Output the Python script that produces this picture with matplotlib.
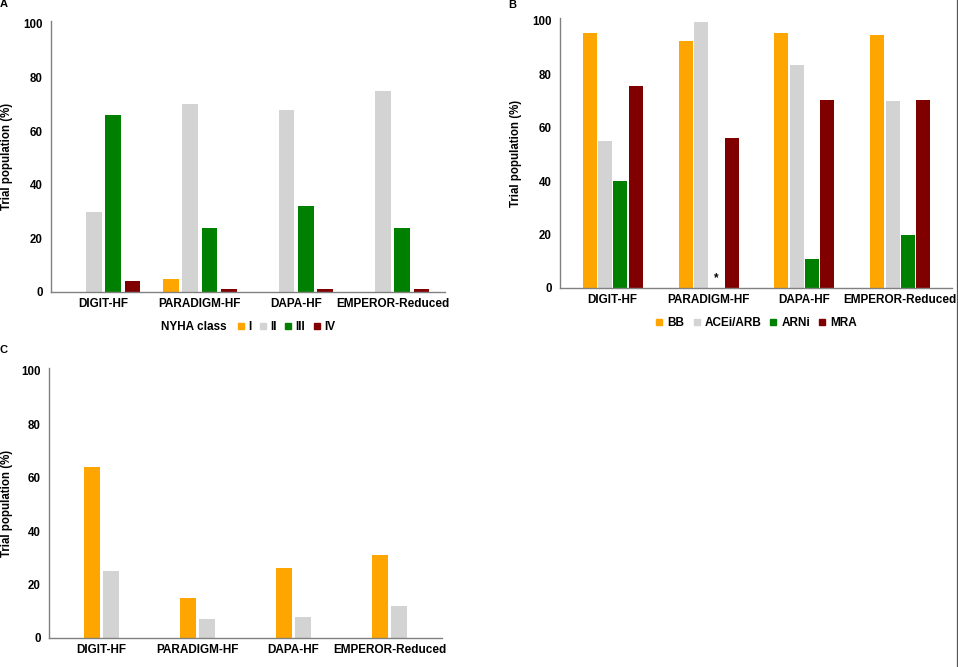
import numpy as np
import matplotlib
matplotlib.use("Agg")
import matplotlib.pyplot as plt
from matplotlib.lines import Line2D

plt.rcParams["font.family"] = ["Liberation Sans", "DejaVu Sans"]
plt.rcParams["font.weight"] = "bold"

trials = ["DIGIT-HF", "PARADIGM-HF", "DAPA-HF", "EMPEROR-Reduced"]

# panel A: NYHA class distribution (%)
nyha_labels = ["I", "II", "III", "IV"]
nyha_i = [0, 5, 0, 0]
nyha_ii = [30, 70, 68, 75]
nyha_iii = [66, 24, 32, 24]
nyha_iv = [4, 1, 1, 1]

# panel B: background therapy (%)
ther_labels = ["BB", "ACEi/ARB", "ARNi", "MRA"]
ther_bb = [95.5, 92.5, 95.5, 94.5]
ther_acei = [55, 99.5, 83.5, 70]
ther_arni = [40, 0, 11, 20]
ther_mra = [75.5, 56, 70.5, 70.5]

# panel C: two series, no legend in the original
c_orange = [64, 15, 26, 31]
c_gray = [25, 7, 8, 12]

ORANGE = "#FFA500"
GRAY = "#D3D3D3"
GREEN = "#008000"
DARKRED = "#800000"
colors4 = [ORANGE, GRAY, GREEN, DARKRED]

fig = plt.figure(figsize=(9.58, 6.67), dpi=100)
W, H = 958.0, 667.0


def axes_px(left, top, right, bottom):
    return fig.add_axes([left / W, 1 - bottom / H, (right - left) / W, (bottom - top) / H])


def style(ax, label_x, xlim):
    ax.set_xlim(*xlim)
    ax.set_ylim(0, 101)
    ax.set_yticks([0, 20, 40, 60, 80, 100])
    ax.set_xticks(range(len(trials)))
    ax.set_xticklabels(trials, fontsize=8.5, fontweight="bold")
    ax.tick_params(axis="y", labelsize=8.3, length=0, pad=6)
    ax.tick_params(axis="x", length=0, pad=4)
    for s in ["top", "right"]:
        ax.spines[s].set_visible(False)
    for s in ["left", "bottom"]:
        ax.spines[s].set_color("#808080")
        ax.spines[s].set_linewidth(1.0)
    ax.set_ylabel("Trial population (%)", fontsize=8.3, fontweight="bold")
    ax.yaxis.set_label_coords(label_x, 0.5)


def square(c):
    return Line2D([], [], marker="s", linestyle="none", markersize=5,
                  markerfacecolor=c, markeredgecolor=c)


x = np.arange(len(trials))

# ---- panel A
axA = axes_px(51, 21, 445, 292)
step, bw = 0.2, 0.163
for k, vals in enumerate([nyha_i, nyha_ii, nyha_iii, nyha_iv]):
    axA.bar(x + (k - 1.5) * step, vals, bw, color=colors4[k])
style(axA, -0.097, (-0.545, 3.545))
fig.text(161 / W, 1 - 327 / H, "NYHA class", fontsize=8.5, fontweight="bold",
         ha="left", va="center")
axA.legend([square(c) for c in colors4], nyha_labels, ncol=4, frameon=False,
           loc="center left", bbox_to_anchor=((236 - 51) / 394, (292 - 327) / 271),
           fontsize=8.5, handlelength=0.8, handletextpad=0.2, columnspacing=0.6,
           borderpad=0, borderaxespad=0)

# ---- panel B
axB = axes_px(560, 18, 952, 288)
step, bw = 0.16, 0.146
for k, vals in enumerate([ther_bb, ther_acei, ther_arni, ther_mra]):
    axB.bar(x + (k - 1.5) * step, vals, bw, color=colors4[k])
axB.text(x[1] + 0.5 * step, 1.5, "*", ha="center", va="bottom", fontsize=8.5)
style(axB, -0.097, (-0.55, 3.54))
axB.legend([square(c) for c in colors4], ther_labels, ncol=4, frameon=False,
           loc="center", bbox_to_anchor=(0.5, (288 - 323) / 270),
           fontsize=8.5, handlelength=0.8, handletextpad=0.3, columnspacing=0.6,
           borderpad=0, borderaxespad=0)

# ---- panel C
axC = axes_px(49, 368, 442, 638)
step, bw = 0.197, 0.164
axC.bar(x - 0.5 * step, c_orange, bw, color=ORANGE)
axC.bar(x + 0.5 * step, c_gray, bw, color=GRAY)
style(axC, -0.092, (-0.543, 3.543))

# panel letters (cropped at the image edge in the original)
fig.text(0, 1 - 7 / H, "A", fontsize=8, fontweight="bold", ha="left", va="baseline")
fig.text(508 / W, 1 - 8 / H, "B", fontsize=8, fontweight="bold", ha="left", va="baseline")
fig.text(0, 1 - 353 / H, "C", fontsize=8, fontweight="bold", ha="left", va="baseline")

# border line at the right edge of the image
fig.add_artist(Line2D([956.5 / W, 956.5 / W], [0.0, 1.0], color="#555555", lw=0.9))

fig.savefig("out.png", dpi=100)
